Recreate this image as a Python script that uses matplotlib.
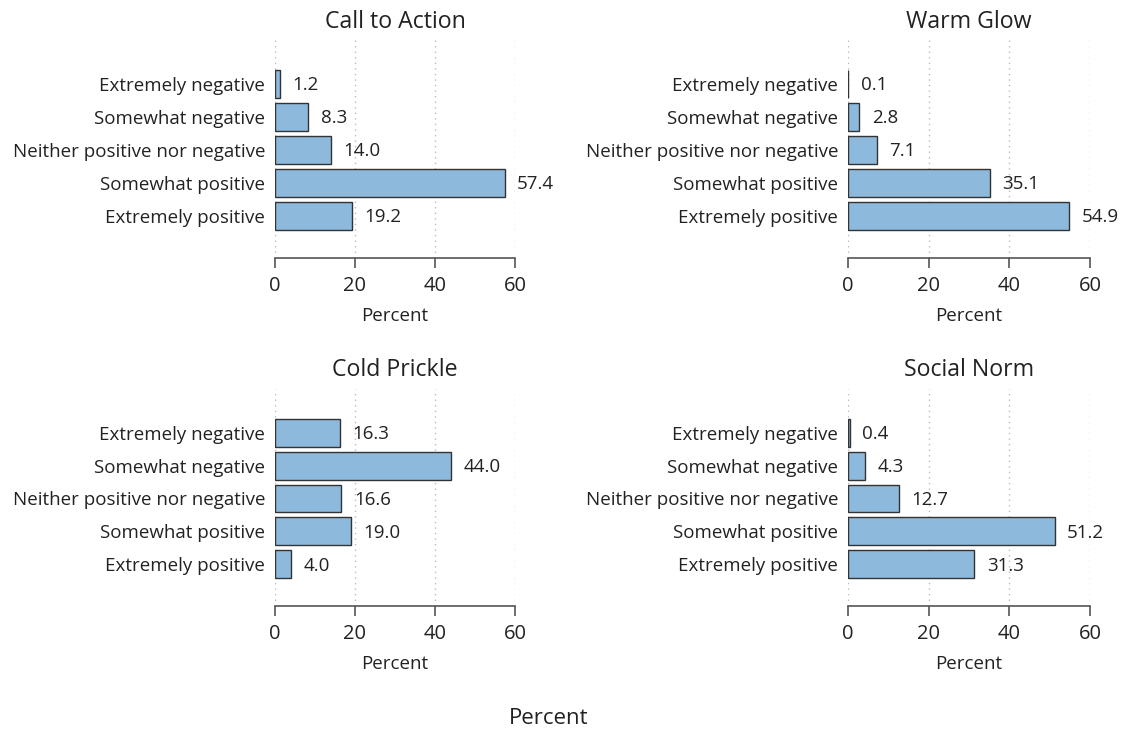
import numpy as np
import matplotlib
matplotlib.use("Agg")
import matplotlib.pyplot as plt

plt.rcParams['font.family'] = ['Open Sans', 'DejaVu Sans']

categories = ["Extremely negative", "Somewhat negative", "Neither positive nor negative",
              "Somewhat positive", "Extremely positive"]
titles = ["Call to Action", "Warm Glow", "Cold Prickle", "Social Norm"]
call_to_action = [1.2, 8.3, 14.0, 57.4, 19.2]
warm_glow = [0.1, 2.8, 7.1, 35.1, 54.9]
cold_prickle = [16.3, 44.0, 16.6, 19.0, 4.0]
social_norm = [0.4, 4.3, 12.7, 51.2, 31.3]
series = [call_to_action, warm_glow, cold_prickle, social_norm]
xticks = [0, 20, 40, 60]

W, H = 1126, 733
fig = plt.figure(figsize=(W / 100, H / 100), dpi=100)

# pixel boxes: left, right, top, bottom
boxes = [(275, 515, 40, 258), (848, 1090, 40, 258),
         (275, 515, 389, 606), (848, 1090, 389, 606)]

bar_color = '#8db9dc'
txt = '#222222'
pos = np.arange(1, 6)

for title, vals, (l, r, t, b) in zip(titles, series, boxes):
    ax = fig.add_axes([l / W, 1 - b / H, (r - l) / W, (b - t) / H])
    ax.barh(pos, vals, height=0.85, color=bar_color, edgecolor='#333333', linewidth=1.0, zorder=3)
    for p, v in zip(pos, vals):
        ax.annotate(f"{v:.1f}", (v, p), xytext=(9, -1), textcoords='offset points',
                    va='center', ha='left', fontsize=13.5, color=txt)
    ax.set_ylim(6.27, -0.33)
    ax.set_xlim(0, 60)
    ax.set_xticks(xticks)
    ax.set_xticklabels([str(x) for x in xticks], fontsize=14.5, color=txt)
    ax.set_yticks(pos)
    ax.set_yticklabels(categories, fontsize=13.5, color=txt)
    ax.tick_params(axis='y', length=0, pad=7)
    ax.tick_params(axis='x', length=7.5, width=1.2, color='#555555', pad=5.5)
    for x in xticks:
        ax.axvline(x, color='#bbbbbb', linestyle=(0, (1, 3)), linewidth=1.0, zorder=1)
    for s in ['top', 'right', 'left']:
        ax.spines[s].set_visible(False)
    ax.spines['bottom'].set_color('#555555')
    ax.spines['bottom'].set_linewidth(1.2)
    ax.set_xlabel("Percent", fontsize=13.5, labelpad=8, color=txt)
    ax.set_title(title, fontsize=16.7, pad=9, color=txt)

fig.text(549 / W, 1 - 719 / H, "Percent", ha='center', va='center', fontsize=16, color=txt)

fig.savefig("out.png", dpi=100, facecolor='white')
